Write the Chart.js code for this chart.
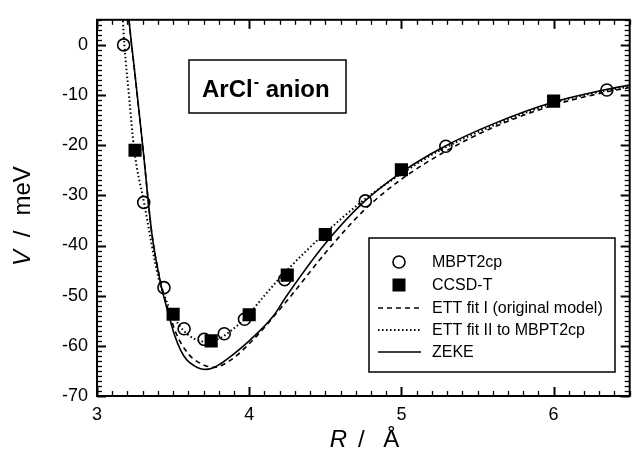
<!DOCTYPE html>
<html>
<head>
<meta charset="utf-8">
<script src="https://cdn.jsdelivr.net/npm/chart.js@4.4.1/dist/chart.umd.min.js"></script>
<style>
html,body{margin:0;padding:0;background:#fff;}
canvas{display:block;}
</style>
</head>
<body>
<canvas id="c" width="639" height="457"></canvas>
<script>
// ---- data ----
const xTickValues = [3, 4, 5, 6];
const yTickValues = [0, -10, -20, -30, -40, -50, -60, -70];

const mbptR = [3.175, 3.307, 3.440, 3.572, 3.704, 3.836, 3.969, 4.233, 4.763, 5.292, 6.350];
const mbptV = [0.0, -31.4, -48.4, -56.6, -58.7, -57.6, -54.7, -46.8, -31.1, -20.2, -9.0];

const ccsdR = [3.25, 3.50, 3.75, 4.00, 4.25, 4.50, 5.00, 6.00];
const ccsdV = [-21.0, -53.7, -59.0, -53.8, -45.9, -37.8, -24.9, -11.2];

const fit1R = [3.19, 3.21, 3.25, 3.30, 3.36, 3.42, 3.47, 3.52, 3.60, 3.68, 3.77, 3.87, 4.00, 4.24, 4.50, 4.75, 5.00, 5.28, 5.60, 6.00, 6.33, 6.50];
const fit1V = [12, 5, -6, -20, -37.5, -47.5, -53, -57.5, -61.6, -63.5, -64.3, -63, -59.6, -51.3, -41.5, -33.1, -26.8, -21.4, -16.5, -12.0, -9.5, -8.5];

const fit2R = [3.165, 3.17, 3.18, 3.21, 3.245, 3.31, 3.405, 3.44, 3.50, 3.57, 3.64, 3.72, 3.80, 3.88, 3.97, 4.10, 4.24, 4.50, 4.75, 5.00, 5.28, 6.00, 6.33, 6.50];
const fit2V = [8, 5, 0, -10, -21, -31.6, -46.6, -49.8, -54, -57, -58.6, -59.2, -58.6, -57, -54.6, -50, -45.2, -37.5, -31, -25.7, -20.6, -11.6, -9.2, -8.3];

const zekeR = [3.19, 3.21, 3.25, 3.30, 3.36, 3.42, 3.47, 3.51, 3.55, 3.59, 3.64, 3.68, 3.715, 3.76, 3.80, 3.87, 4.00, 4.16, 4.24, 4.50, 4.75, 5.00, 5.28, 5.60, 6.00, 6.33, 6.50];
const zekeV = [12, 5, -6, -20, -37.5, -47.8, -53.7, -57.9, -60.9, -62.8, -64.0, -64.55, -64.7, -64.4, -63.8, -62.3, -59, -54, -50.3, -39.6, -31.4, -25.4, -20.3, -15.8, -11.4, -9.0, -8.0];

const legendLabels = ['MBPT2cp', 'CCSD-T', 'ETT fit I (original model)', 'ETT fit II to MBPT2cp', 'ZEKE'];

const pts = (xs, ys) => xs.map((x, i) => ({x: x, y: ys[i]}));
const FONT = '"Liberation Sans", Arial, Helvetica, sans-serif';

const decor = {
  id: 'decor',
  afterDraw(chart) {
    const {ctx, chartArea: a, scales: {x, y}} = chart;
    ctx.save();
    ctx.strokeStyle = '#000';
    ctx.lineCap = 'butt';
    const seg = (x1, y1, x2, y2) => { ctx.beginPath(); ctx.moveTo(x1, y1); ctx.lineTo(x2, y2); ctx.stroke(); };
    // x ticks (every 0.1, major every 1)
    for (let i = 0; i <= 35; i++) {
      const px = Math.round(x.getPixelForValue(3 + i / 10)) + 0.5;
      const major = i % 10 === 0;
      const L = major ? 9 : 5;
      ctx.lineWidth = major ? 2 : 1.3;
      seg(px, a.bottom, px, a.bottom - L);
      seg(px, a.top, px, a.top + L);
    }
    // y ticks (every 1, major every 10)
    for (let i = 0; i <= 75; i++) {
      const v = -70 + i;
      const py = Math.round(y.getPixelForValue(v)) + 0.5;
      const major = v % 10 === 0;
      const L = major ? 9 : 5;
      ctx.lineWidth = major ? 2 : 1.3;
      seg(a.left, py, a.left + L, py);
      seg(a.right, py, a.right - L, py);
    }
    // frame
    ctx.lineWidth = 2;
    ctx.strokeRect(a.left, a.top, a.right - a.left, a.bottom - a.top);

    // title box
    ctx.lineWidth = 1.5;
    ctx.fillStyle = '#fff';
    ctx.fillRect(189, 60, 157, 53);
    ctx.strokeRect(189, 60, 157, 53);
    ctx.fillStyle = '#000';
    ctx.textBaseline = 'alphabetic';
    ctx.textAlign = 'left';
    ctx.font = 'bold 24px ' + FONT;
    let tx = 202;
    ctx.fillText('ArCl', tx, 97);
    tx += ctx.measureText('ArCl').width + 1;
    ctx.font = 'bold 16px ' + FONT;
    ctx.fillText('-', tx, 87);
    tx += ctx.measureText('-').width;
    ctx.font = 'bold 24px ' + FONT;
    ctx.fillText(' anion', tx, 97);

    // legend box
    ctx.lineWidth = 1.5;
    ctx.fillStyle = '#fff';
    ctx.fillRect(369, 238, 246, 134);
    ctx.strokeRect(369, 238, 246, 134);
    const rows = [262, 285, 308, 330, 352];
    const sx = 399;
    ctx.beginPath(); ctx.arc(sx, rows[0], 6, 0, Math.PI * 2);
    ctx.fillStyle = '#fff'; ctx.fill(); ctx.lineWidth = 1.6; ctx.stroke();
    ctx.fillStyle = '#000';
    ctx.fillRect(sx - 6.5, rows[1] - 6.5, 13, 13);
    ctx.lineWidth = 1.6;
    ctx.setLineDash([5, 4]); seg(378, rows[2], 421, rows[2]);
    ctx.lineWidth = 2;
    ctx.setLineDash([1.5, 2.5]); seg(378, rows[3], 421, rows[3]);
    ctx.lineWidth = 1.6;
    ctx.setLineDash([]); seg(378, rows[4], 421, rows[4]);
    ctx.fillStyle = '#000';
    ctx.font = '16px ' + FONT;
    ctx.textBaseline = 'middle';
    legendLabels.forEach((t, i) => ctx.fillText(t, 432, rows[i] + 1));

    // axis titles
    const cx = (a.left + a.right) / 2;
    ctx.textAlign = 'center';
    ctx.textBaseline = 'middle';
    ctx.font = 'italic 24px ' + FONT;
    ctx.fillText('R', cx - 25, 440);
    ctx.font = '24px ' + FONT;
    ctx.fillText('/', cx - 2, 440);
    ctx.fillText('Å', cx + 28, 440);

    const cy = (a.top + a.bottom) / 2;
    ctx.save();
    ctx.translate(23, cy);
    ctx.rotate(-Math.PI / 2);
    ctx.font = 'italic 24px ' + FONT;
    ctx.fillText('V', -50, 0);
    ctx.font = '24px ' + FONT;
    ctx.fillText('/', -26, 0);
    ctx.fillText('meV', 17, 0);
    ctx.restore();
    ctx.restore();
  }
};

new Chart(document.getElementById('c'), {
  type: 'scatter',
  data: {
    datasets: [
      {label: legendLabels[0], data: pts(mbptR, mbptV), pointStyle: 'circle', pointRadius: 6, pointHoverRadius: 6,
       backgroundColor: 'rgba(0,0,0,0)', borderColor: '#000', borderWidth: 1.6, showLine: false},
      {label: legendLabels[1], data: pts(ccsdR, ccsdV), pointStyle: 'rect', pointRadius: 9.3, pointHoverRadius: 9.3,
       backgroundColor: '#000', borderColor: '#000', borderWidth: 0, showLine: false},
      {label: legendLabels[2], data: pts(fit1R, fit1V), showLine: true, pointRadius: 0, borderColor: '#000',
       borderWidth: 1.6, borderDash: [5, 4], cubicInterpolationMode: 'monotone', clip: 0},
      {label: legendLabels[3], data: pts(fit2R, fit2V), showLine: true, pointRadius: 0, borderColor: '#000',
       borderWidth: 2, borderDash: [1.5, 2.5], cubicInterpolationMode: 'monotone', clip: 0},
      {label: legendLabels[4], data: pts(zekeR, zekeV), showLine: true, pointRadius: 0, borderColor: '#000',
       borderWidth: 1.6, cubicInterpolationMode: 'monotone', clip: 0}
    ]
  },
  options: {
    responsive: false,
    animation: false,
    devicePixelRatio: 1,
    layout: {padding: {top: 13, right: 1, left: 0, bottom: 0}},
    plugins: {legend: {display: false}, tooltip: {enabled: false}, title: {display: false}},
    scales: {
      x: {
        type: 'linear', min: 3, max: 6.5,
        afterBuildTicks: s => { s.ticks = xTickValues.map(v => ({value: v})); },
        afterFit: s => { s.height = 61; },
        grid: {display: false, drawTicks: false},
        border: {display: false},
        ticks: {autoSkip: false, maxRotation: 0, padding: 8, color: '#000', font: {family: FONT, size: 18}}
      },
      y: {
        type: 'linear', min: -70, max: 5,
        afterBuildTicks: s => { s.ticks = yTickValues.map(v => ({value: v})); },
        afterFit: s => { s.width = 97; },
        grid: {display: false, drawTicks: false},
        border: {display: false},
        ticks: {autoSkip: false, padding: 9, color: '#000', font: {family: FONT, size: 18}}
      }
    }
  },
  plugins: [decor]
});
</script>
</body>
</html>
